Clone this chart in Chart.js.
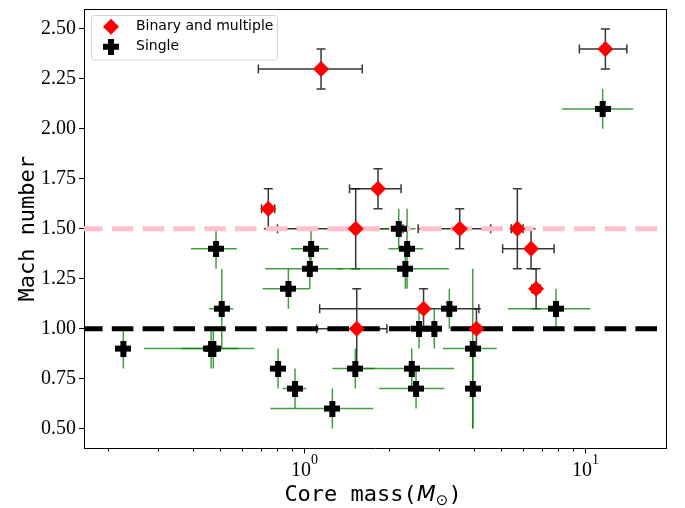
<!DOCTYPE html>
<html>
<head>
<meta charset="utf-8">
<script src="https://cdn.jsdelivr.net/npm/chart.js@4.4.1/dist/chart.umd.min.js"></script>
<style>
  html, body { margin: 0; padding: 0; background: #fff; }
</style>
</head>
<body>
<canvas id="machChart" width="685" height="508"></canvas>
<script>
// binary and multiple systems
var binaryMass    = [1.145, 11.77, 0.743, 1.826, 1.521, 3.567, 5.72, 6.40, 6.67, 2.652, 1.534, 4.09];
var binaryMassErr = [0.46, 2.26, 0.04, 0.38, 0.72, 1.03, 0.28, 1.33, 0.23, 1.52, 0.43, 0.12];
var binaryMach    = [2.30, 2.40, 1.60, 1.70, 1.50, 1.50, 1.50, 1.40, 1.20, 1.10, 1.00, 1.00];
var binaryMachErr = [0.10, 0.10, 0.10, 0.10, 0.20, 0.10, 0.20, 0.10, 0.10, 0.10, 0.20, 0.10];

// single cores
var singleMass    = [0.2265, 0.465, 0.4736, 0.4842, 0.5074, 0.805, 0.876, 0.925, 1.044, 1.055, 1.256, 1.516,
                     2.164, 2.317, 2.285, 2.407, 2.494, 2.556, 2.897, 3.276, 3.97, 3.97, 7.85, 11.51];
var singleMassErr = [0.013, 0.197, 0.108, 0.09, 0.05, 0.055, 0.167, 0.09, 0.32, 0.16, 0.50, 0.26,
                     0.32, 0.33, 0.98, 1.00, 0.65, 0.12, 0.15, 0.10, 0.86, 0.25, 2.55, 3.25];
var singleMach    = [0.90, 0.90, 0.90, 1.40, 1.10, 0.80, 1.20, 0.70, 1.30, 1.40, 0.60, 0.80,
                     1.50, 1.40, 1.30, 0.80, 0.70, 1.00, 1.00, 1.10, 0.90, 0.70, 1.10, 2.10];
var singleMachErr = [0.10, 0.10, 0.10, 0.10, 0.20, 0.10, 0.10, 0.10, 0.10, 0.10, 0.10, 0.10,
                     0.10, 0.20, 0.10, 0.10, 0.10, 0.10, 0.10, 0.10, 0.40, 0.20, 0.10, 0.10];

// reference Mach levels
var pinkLevel = 1.5;
var blackLevel = 1.0;

// axes
var xMin = 0.1641, xMax = 19.34;
var yMin = 0.4, yMax = 2.6;
var yTicks = [0.50, 0.75, 1.00, 1.25, 1.50, 1.75, 2.00, 2.25, 2.50];
var xMajorTicks = [1, 10];
var xMinorTicks = [0.2, 0.3, 0.4, 0.5, 0.6, 0.7, 0.8, 0.9, 2, 3, 4, 5, 6, 7, 8, 9];

var serif = '"Liberation Serif", "Times New Roman", serif';
var mono = '"DejaVu Sans Mono", monospace';
var sans = '"DejaVu Sans", sans-serif';

function toPoints(xs, ys) {
  return xs.map(function (x, i) { return { x: x, y: ys[i] }; });
}

// filled plus, like matplotlib's "P"
function plusMarker(size, arm) {
  var c = document.createElement('canvas');
  c.width = size; c.height = size;
  var g = c.getContext('2d');
  var a = (size - arm) / 2;
  g.fillStyle = '#000';
  g.fillRect(a, 0, arm, size);
  g.fillRect(0, a, size, arm);
  return c;
}
var plusIcon = plusMarker(16, 6);

function diamond(ctx, x, y, r) {
  ctx.beginPath();
  ctx.moveTo(x, y - r); ctx.lineTo(x + r, y); ctx.lineTo(x, y + r); ctx.lineTo(x - r, y);
  ctx.closePath();
  ctx.fill();
}

var errorBars = {
  id: 'errorBars',
  beforeDatasetsDraw: function (chart) {
    var ctx = chart.ctx, xs = chart.scales.x, ys = chart.scales.y;
    chart.data.datasets.forEach(function (ds) {
      if (!ds.xErr) return;
      ctx.save();
      ctx.strokeStyle = ds.errColor;
      ctx.lineWidth = 1.5;
      ds.data.forEach(function (p, i) {
        var px = xs.getPixelForValue(p.x), py = ys.getPixelForValue(p.y);
        var x0 = xs.getPixelForValue(p.x - ds.xErr[i]), x1 = xs.getPixelForValue(p.x + ds.xErr[i]);
        var y0 = ys.getPixelForValue(p.y - ds.yErr[i]), y1 = ys.getPixelForValue(p.y + ds.yErr[i]);
        var c = ds.capSize;
        ctx.beginPath();
        ctx.moveTo(x0, py); ctx.lineTo(x1, py);
        ctx.moveTo(px, y0); ctx.lineTo(px, y1);
        if (c) {
          ctx.moveTo(x0, py - c); ctx.lineTo(x0, py + c);
          ctx.moveTo(x1, py - c); ctx.lineTo(x1, py + c);
          ctx.moveTo(px - c, y0); ctx.lineTo(px + c, y0);
          ctx.moveTo(px - c, y1); ctx.lineTo(px + c, y1);
        }
        ctx.stroke();
      });
      ctx.restore();
    });
  }
};

var decorations = {
  id: 'decorations',
  afterDraw: function (chart) {
    var ctx = chart.ctx, a = chart.chartArea, xs = chart.scales.x;
    ctx.save();

    // top and right spines
    ctx.strokeStyle = '#000';
    ctx.lineWidth = 1;
    ctx.beginPath();
    ctx.moveTo(a.left, Math.round(a.top) + 0.5); ctx.lineTo(a.right, Math.round(a.top) + 0.5);
    ctx.moveTo(Math.round(a.right) + 0.5, a.top); ctx.lineTo(Math.round(a.right) + 0.5, a.bottom);
    ctx.stroke();

    // minor ticks on the log axis
    ctx.beginPath();
    xMinorTicks.forEach(function (v) {
      var x = Math.round(xs.getPixelForValue(v)) + 0.5;
      ctx.moveTo(x, a.bottom); ctx.lineTo(x, a.bottom + 3);
    });
    ctx.stroke();

    // 10^n labels
    ctx.fillStyle = '#000';
    ctx.textBaseline = 'alphabetic';
    ctx.textAlign = 'left';
    xMajorTicks.forEach(function (v) {
      var px = xs.getPixelForValue(v);
      var sup = String(Math.round(Math.log10(v)));
      ctx.font = '20px ' + serif;
      var wb = ctx.measureText('10').width;
      ctx.font = '14px ' + serif;
      var ws = ctx.measureText(sup).width;
      var start = px - (wb + ws) / 2;
      ctx.font = '20px ' + serif;
      ctx.fillText('10', start, 476);
      ctx.font = '14px ' + serif;
      ctx.fillText(sup, start + wb, 464);
    });

    // x title: Core mass(M_sun)
    var parts = [
      { t: 'Core mass(', f: '22px ' + mono, dy: 0 },
      { t: 'M', f: 'italic 22px ' + sans, dy: 0 },
      { t: '\u2299', f: '15px ' + sans, dy: 4 },
      { t: ')', f: '22px ' + mono, dy: 0 }
    ];
    var total = 0;
    parts.forEach(function (p) { ctx.font = p.f; p.w = ctx.measureText(p.t).width; total += p.w; });
    var cx = (a.left + a.right) / 2 - 2 - total / 2;
    parts.forEach(function (p) {
      ctx.font = p.f;
      ctx.fillText(p.t, cx, 501 + p.dy);
      cx += p.w;
    });

    // y title
    ctx.save();
    ctx.translate(34, (a.top + a.bottom) / 2);
    ctx.rotate(-Math.PI / 2);
    ctx.textAlign = 'center';
    ctx.font = '22px ' + mono;
    ctx.fillText('Mach number', 0, 0);
    ctx.restore();

    // legend
    var lx = 91.5, ly = 15.5, lw = 186, lh = 44.5, r = 3;
    ctx.beginPath();
    ctx.moveTo(lx + r, ly);
    ctx.arcTo(lx + lw, ly, lx + lw, ly + lh, r);
    ctx.arcTo(lx + lw, ly + lh, lx, ly + lh, r);
    ctx.arcTo(lx, ly + lh, lx, ly, r);
    ctx.arcTo(lx, ly, lx + lw, ly, r);
    ctx.closePath();
    ctx.fillStyle = 'rgba(255,255,255,0.8)';
    ctx.fill();
    ctx.strokeStyle = '#d4d4d4';
    ctx.stroke();

    ctx.fillStyle = '#ff0000';
    diamond(ctx, 111, 26.7, 8);
    ctx.drawImage(plusIcon, 111 - 8, 46.7 - 8);

    ctx.fillStyle = '#000';
    ctx.font = '14px ' + sans;
    ctx.textBaseline = 'middle';
    ctx.fillText(chart.data.datasets[0].label, 136, 26.7);
    ctx.fillText(chart.data.datasets[1].label, 136, 46.7);

    ctx.restore();
  }
};

var ctxM = document.getElementById('machChart').getContext('2d');
var machChart = new Chart(ctxM, {
  type: 'scatter',
  data: {
    datasets: [{
        label: 'Binary and multiple',
        data: toPoints(binaryMass, binaryMach),
        xErr: binaryMassErr,
        yErr: binaryMachErr,
        errColor: 'rgba(20,20,20,0.85)',
        capSize: 4.5,
        pointStyle: 'rectRot',
        pointRadius: 8,
        backgroundColor: '#ff0000',
        borderWidth: 0,
        order: 2
      }, {
        label: 'Single',
        data: toPoints(singleMass, singleMach),
        xErr: singleMassErr,
        yErr: singleMachErr,
        errColor: 'rgba(0,128,0,0.75)',
        capSize: 0,
        pointStyle: plusIcon,
        pointRadius: 8,
        order: 1
      }, {
        label: 'pink level',
        data: [{ x: xMin, y: pinkLevel }, { x: xMax, y: pinkLevel }],
        showLine: true,
        borderColor: '#ffc0cb',
        borderWidth: 5,
        borderDash: [21.6, 9.2],
        borderDashOffset: 3,
        pointRadius: 0,
        order: 3
      }, {
        label: 'black level',
        data: [{ x: xMin, y: blackLevel }, { x: xMax, y: blackLevel }],
        showLine: true,
        borderColor: '#000',
        borderWidth: 5,
        borderDash: [21.6, 9.2],
        borderDashOffset: 3,
        pointRadius: 0,
        order: 3
      }
    ]
  },
  options: {
    responsive: false,
    animation: false,
    events: [],
    layout: { padding: { top: 8, right: 19, left: 0, bottom: 0 } },
    plugins: { legend: { display: false }, tooltip: { enabled: false } },
    scales: {
      x: {
        type: 'logarithmic',
        min: xMin,
        max: xMax,
        afterBuildTicks: function (s) { s.ticks = xMajorTicks.map(function (v) { return { value: v }; }); },
        afterFit: function (s) { s.height = 59.5; s.paddingLeft = 0; s.paddingRight = 0; },
        ticks: { display: false },
        grid: { drawOnChartArea: false, tickLength: 5, tickColor: '#000', tickWidth: 1 },
        border: { color: '#000', width: 1 }
      },
      y: {
        min: yMin,
        max: yMax,
        afterBuildTicks: function (s) { s.ticks = yTicks.map(function (v) { return { value: v }; }); },
        afterFit: function (s) { s.width = 84; s.paddingTop = 0; s.paddingBottom = 0; },
        ticks: {
          color: '#000',
          padding: 3,
          font: { family: serif, size: 20 },
          callback: function (v) { return Number(v).toFixed(2); }
        },
        grid: { drawOnChartArea: false, tickLength: 5, tickColor: '#000', tickWidth: 1 },
        border: { color: '#000', width: 1 }
      }
    }
  },
  plugins: [errorBars, decorations]
});
</script>
</body>
</html>
